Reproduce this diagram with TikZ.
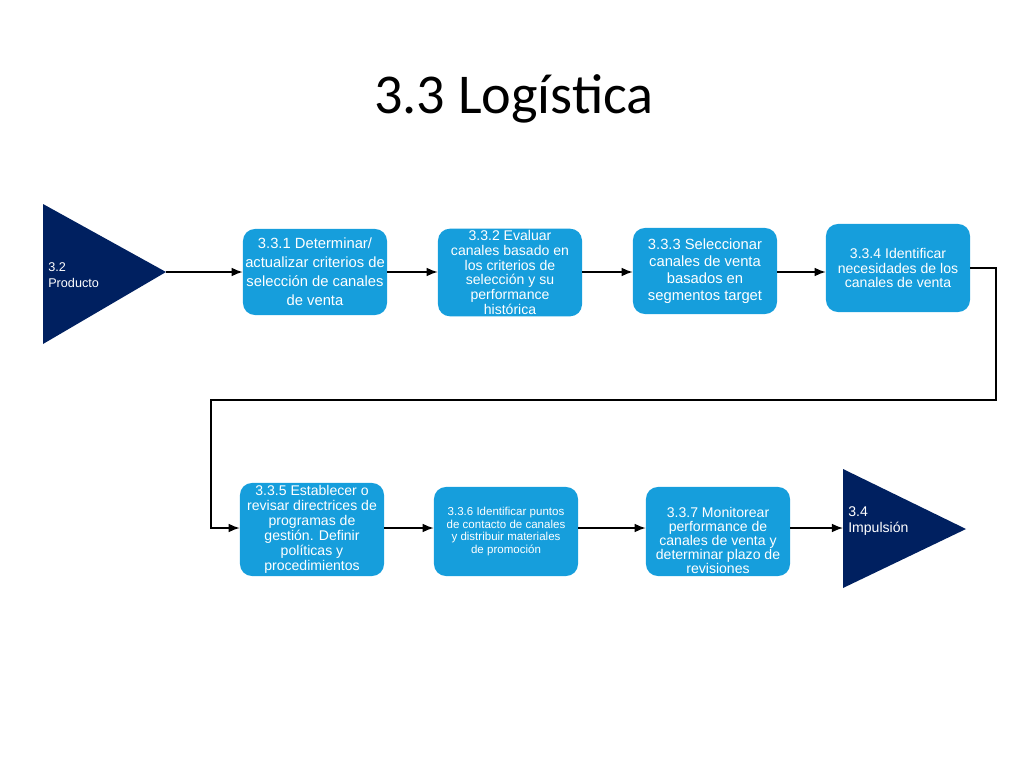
\documentclass[tikz,border=0pt]{standalone}
\usepackage{fontspec}
\setmainfont{Liberation Sans}
\newfontfamily\titlefont{Carlito}
\usetikzlibrary{arrows.meta}

\definecolor{taskblue}{RGB}{22,158,220}
\definecolor{navyblue}{RGB}{0,32,96}

\tikzset{
    task/.style={fill=taskblue, rounded corners=8.5pt, minimum width=3.6cm, minimum height=2.15cm,
        align=center, text=white, inner sep=1pt, font=\fontsize{10}{10.6}\selectfont},
    flow/.style={line width=1pt, -{Latex[length=2.8mm, width=2.2mm]}},
    ends/.style={text=white, align=left, anchor=west, inner sep=0pt}
}

\begin{document}
\begin{tikzpicture}[x=0.025cm, y=-0.025cm]

    \useasboundingbox (0,0) rectangle (1024,768);

    \node[font=\titlefont\fontsize{40}{48}\selectfont] (title) at (514,99) {3.3 Logística};

    \fill[navyblue] (43,204) -- (166,272) -- (43,344) -- cycle;
    \coordinate (prod) at (166,272);
    \node[ends, font=\fontsize{9}{11.3}\selectfont] (prodtxt) at (48,275) {3.2\\Producto};

    \fill[navyblue] (843,469) -- (966,529) -- (843,588) -- cycle;
    \coordinate (impul) at (843,528);
    \node[ends, font=\fontsize{10}{12}\selectfont] (impultxt) at (848,521) {3.4\\Impulsión};

    \node[task, font=\fontsize{10.5}{13.5}\selectfont] (b1) at (315,272) {3.3.1 Determinar/\\actualizar criterios de\\selección de canales\\de venta};
    \node[task, minimum height=2.125cm] (b2) at (510,272.5) {3.3.2 Evaluar\\canales basado en\\los criterios de\\selección y su\\performance\\histórica};
    \node[task, font=\fontsize{10.5}{12.2}\selectfont] (b3) at (705,271) {3.3.3 Seleccionar\\canales de venta\\basados en\\segmentos target};
    \node[task, minimum height=2.2cm] (b4) at (898,268) {3.3.4 Identificar\\necesidades de los\\canales de venta};

    \node[task, minimum height=2.325cm] (b5) at (312,529.5) {3.3.5 Establecer o\\revisar directrices de\\programas de\\gestión. Definir\\políticas y\\procedimientos};
    \node[task, minimum height=2.225cm, font=\fontsize{8.2}{9.1}\selectfont] (b6) at (506,531.5) {3.3.6 Identificar puntos\\de contacto de canales\\y distribuir materiales\\de promoción};
    \node[task, minimum height=2.225cm, font=\fontsize{10}{10}\selectfont] (b7) at (718,531.5) {\rule{0pt}{20pt}3.3.7 Monitorear\\performance de\\canales de venta y\\determinar plazo de\\revisiones};

    \coordinate (r) at (996,400);
    \coordinate (l) at (211,400);

    \draw[flow] (prod) -- (b1);
    \draw[flow] (b1.east) -- (b2.west |- b1.east);
    \draw[flow] (b2.east |- b1.east) -- (b3.west |- b1.east);
    \draw[flow] (b3.east |- b1.east) -- (b4.west |- b1.east);
    \draw[flow] (b4.east) -| (r) -- (l) |- (b5.west |- impul);
    \draw[flow] (b5.east |- impul) -- (b6.west |- impul);
    \draw[flow] (b6.east |- impul) -- (b7.west |- impul);
    \draw[flow] (b7.east |- impul) -- (impul);

\end{tikzpicture}
\end{document}
